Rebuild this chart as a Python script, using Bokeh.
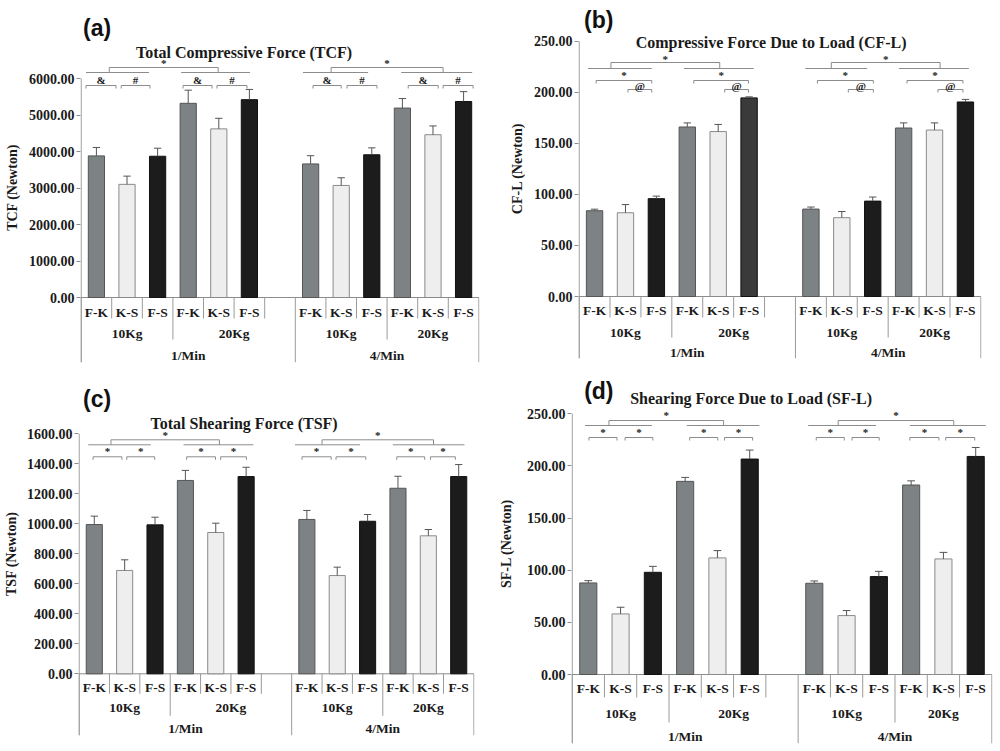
import math
from bokeh.plotting import figure
from bokeh.layouts import row, column
from bokeh.models import Range1d, FixedTicker, NumeralTickFormatter, Label
from bokeh.core.properties import value
from bokeh.embed import file_html
from bokeh.resources import INLINE

# ---------------- data ----------------
rates = ["1/Min", "4/Min"]
loads = ["10Kg", "20Kg"]
pairs = ["F-K", "K-S", "F-S"]

# order: rate -> load -> pair
tcf_mean = [3880, 3100, 3870, 5320, 4620, 5420, 3660, 3070, 3910, 5190, 4460, 5370]
tcf_err = [230, 225, 220, 360, 290, 280, 225, 210, 190, 260, 240, 270]
cfl_mean = [84.0, 82.0, 95.8, 166.0, 161.5, 194.5, 85.6, 77.2, 93.4, 165.0, 163.0, 190.5]
cfl_err = [1.5, 8.0, 2.5, 4.0, 7.0, 1.0, 2.0, 6.0, 4.0, 5.0, 7.0, 2.5]
tsf_mean = [995, 689, 993, 1289, 942, 1315, 1029, 655, 1017, 1237, 920, 1315]
tsf_err = [56, 71, 51, 67, 62, 62, 60, 56, 45, 80, 42, 80]
sfl_mean = [87.8, 58.1, 98.0, 185.2, 111.8, 206.6, 87.5, 56.5, 93.9, 181.7, 110.8, 209.1]
sfl_err = [2.2, 6.4, 5.7, 3.8, 7.0, 8.6, 2.2, 4.8, 5.0, 4.0, 6.3, 8.6]

tcf_ticks = [0, 1000, 2000, 3000, 4000, 5000, 6000]
cfl_ticks = [0, 50, 100, 150, 200, 250]
tsf_ticks = [0, 200, 400, 600, 800, 1000, 1200, 1400, 1600]
sfl_ticks = [0, 50, 100, 150, 200, 250]

# ---------------- layout / style ----------------
RATE_SLOTS = [7, 6]          # category slots per rate group (1/Min has a blank slot)
NSLOT = sum(RATE_SLOTS)
SERIF = value("Liberation Serif")
TXT = "#1a1a1a"
LINE = "#8c8c8c"
FILLS = ["#7d8284", "#eeeeee", "#1c1c1c"]
EDGES = ["#555555", "#8a8a8a", "#111111"]

def slot_of(r, l, p):
    return sum(RATE_SLOTS[:r]) + l * 3 + p

slots = [slot_of(r, l, p) for r in range(2) for l in range(2) for p in range(3)]
pair_idx = [p for r in range(2) for l in range(2) for p in range(3)]

def build(cfg, means, errs, ticks, ylabel, title, letter):
    LW = cfg["strip"]
    W, H = cfg["size"]
    L, R, T, B = cfg["border"]
    zero = cfg["zero"]
    ppu = (zero - cfg["top_px"]) / ticks[-1]
    y_end = (zero - T) / ppu
    y_start = -(H - B - zero) / ppu
    yr = Range1d(y_start, y_end)
    x0, x1 = -0.02, NSLOT + 0.02
    slot_px = (W - L - R) / (x1 - x0)
    py = lambda px: px / ppu
    px_ = lambda px: px / slot_px

    p = figure(width=W, height=H, x_range=Range1d(x0, x1), y_range=yr,
               output_backend="svg", toolbar_location=None, x_axis_location=None,
               min_border_left=L, min_border_right=R, min_border_top=T, min_border_bottom=B,
               title=None)
    p.outline_line_color = None
    p.xgrid.visible = False
    p.ygrid.visible = False
    p.background_fill_color = "white"
    p.border_fill_color = "white"

    ax = p.yaxis[0]
    ax.ticker = FixedTicker(ticks=ticks)
    ax.formatter = NumeralTickFormatter(format="0.00")
    ax.axis_line_color = None
    ax.major_tick_line_color = LINE
    ax.major_tick_out = 4
    ax.major_tick_in = 0
    ax.minor_tick_line_color = None
    ax.major_label_standoff = 2
    ax.major_label_text_font = "Liberation Serif"
    ax.major_label_text_font_style = "bold"
    ax.major_label_text_font_size = "14px"
    ax.major_label_text_color = TXT

    # axis lines
    p.segment(x0=[0], y0=[y_start], x1=[0], y1=[ticks[-1]], line_color=LINE, line_width=1)
    p.segment(x0=[0], y0=[0], x1=[NSLOT], y1=[0], line_color=LINE, line_width=1)

    # category separators
    rate_bounds = [sum(RATE_SLOTS[:i]) for i in range(len(RATE_SLOTS) + 1)]
    load_bounds = [rb + 3 for rb in rate_bounds[:-1]]
    sx, sy = [], []
    for b in range(NSLOT + 1):
        if b in rate_bounds:
            yb = y_start
        elif b in load_bounds:
            yb = -py(cfg["sep"][1])
        else:
            yb = -py(cfg["sep"][0])
        sx.append(b)
        sy.append(yb)
    p.segment(x0=sx, y0=[0] * len(sx), x1=sx, y1=sy, line_color="#9a9a9a", line_width=1)

    # category labels
    rows_px = cfg["rows"]
    cx = [s + 0.5 for s in slots]
    ctext = [pairs[i] for i in pair_idx]
    common = dict(text_font=SERIF, text_font_style="bold", text_font_size="13.5px",
                  text_color=TXT, text_align="center", text_baseline="middle")
    p.text(x=cx, y=[-py(rows_px[0])] * len(cx), text=ctext, **common)
    lx, lt = [], []
    for r in range(2):
        rs, re_ = rate_bounds[r], rate_bounds[r + 1]
        lx += [(rs + rs + 3) / 2, (rs + 3 + re_) / 2]
        lt += loads
    p.text(x=lx, y=[-py(rows_px[1])] * len(lx), text=lt, **common)
    rx = [(rate_bounds[r] + rate_bounds[r + 1]) / 2 for r in range(2)]
    p.text(x=rx, y=[-py(rows_px[2])] * 2, text=rates, **common)

    # bars
    fills = [FILLS[i] for i in pair_idx]
    for k, c in cfg.get("override", {}).items():
        fills[k] = c
    edges = [EDGES[i] for i in pair_idx]
    p.vbar(x=cx, top=means, bottom=0, width=0.53, fill_color=fills, line_color=edges, line_width=1)

    # error bars (upper)
    tops = [m + e for m, e in zip(means, errs)]
    p.segment(x0=cx, y0=means, x1=cx, y1=tops, line_color="#555555", line_width=1)
    cw = 0.12
    p.segment(x0=[c - cw for c in cx], y0=tops, x1=[c + cw for c in cx], y1=tops,
              line_color="#555555", line_width=1)

    # significance brackets
    for (ypx, drop, ldy, items) in cfg["brackets"]:
        y = py(ypx)
        xs0 = [a for a, b, t in items]
        xs1 = [b for a, b, t in items]
        p.segment(x0=xs0, y0=[y] * len(items), x1=xs1, y1=[y] * len(items), line_color=LINE, line_width=1)
        if drop:
            yd = py(ypx - drop)
            p.segment(x0=xs0 + xs1, y0=[y] * (2 * len(items)), x1=xs0 + xs1, y1=[yd] * (2 * len(items)),
                      line_color=LINE, line_width=1)
        labs = [(a + b) / 2 for a, b, t in items if t]
        if labs:
            p.text(x=labs, y=[py(ypx + ldy)] * len(labs), text=[t for a, b, t in items if t],
                   text_font=SERIF, text_font_style="bold", text_font_size="11px",
                   text_color=TXT, text_align="center", text_baseline="middle")

    # title and panel letter
    tx, ty = cfg["title"]
    p.text(x=[px_(tx)], y=[py(ty)], text=[title], text_font=SERIF, text_font_style="bold",
           text_font_size="16px", text_color=TXT, text_align="center", text_baseline="middle")
    lx_, ly_ = cfg["letter"]
    p.add_layout(Label(x=px_(lx_), y=py(ly_), text=letter, text_font="Liberation Sans",
                       text_font_style="bold", text_font_size="23px", text_color="#111111",
                       text_align="left", text_baseline="middle"))

    # y-axis title strip (shares the y range, so the title sits at a data height)
    s = figure(width=LW, height=H, x_range=Range1d(0, LW), y_range=yr,
               output_backend="svg", toolbar_location=None, x_axis_location=None,
               y_axis_location=None, min_border_left=0, min_border_right=0,
               min_border_top=T, min_border_bottom=B, title=None)
    s.outline_line_color = None
    s.xgrid.visible = False
    s.ygrid.visible = False
    yx, yy = cfg["ylab"]
    s.text(x=[yx], y=[py(yy)], text=[ylabel], angle=math.pi / 2, text_font=SERIF,
           text_font_style="bold", text_font_size="14px", text_color=TXT,
           text_align="center", text_baseline="middle")
    return row(s, p)

CFG_A = dict(strip=22, size=(476, 375), border=(58, 19, 13, 13), zero=297, top_px=78,
             rows=[15, 36, 58], sep=[21, 42], title=(163, 245), letter=(2, 270), ylab=(12, 110),
             brackets=[
                 (225, 0, 0, [(0.16, 2.22, ""), (3.27, 5.52, ""), (7.25, 9.38, ""), (10.46, 12.78, "")]),
                 (230, 5, 5, [(0.92, 4.48, "*"), (8.17, 11.83, "*")]),
                 (212, 3, 6, [(0.16, 1.14, "&"), (1.31, 2.25, "#"), (3.33, 4.28, "&"), (4.44, 5.42, "#"),
                              (7.58, 8.5, "&"), (8.69, 9.67, "#"), (10.69, 11.67, "&"), (11.83, 12.81, "#")]),
             ])
CFG_B = dict(strip=27, size=(473, 375), border=(53, 17, 3, 17), zero=296, top_px=40.7,
             rows=[14, 36, 56], sep=[21, 41], title=(192, 254), letter=(5, 277), ylab=(19, 128),
             override={5: "#3a3a3a"},
             brackets=[
                 (228, 0, 0, [(0.29, 2.35, ""), (3.39, 5.65, ""), (7.32, 9.32, ""), (10.35, 12.61, "")]),
                 (234, 6, 4, [(1.03, 4.55, "*"), (8.16, 11.68, "*")]),
                 (216, 3, 6, [(0.55, 2.35, "*"), (3.71, 5.48, "*"), (7.71, 9.52, "*"), (10.61, 12.42, "*")]),
                 (207, 3, 4, [(1.58, 2.35, "@"), (4.71, 5.48, "@"), (8.71, 9.52, "@"), (11.61, 12.42, "@")]),
             ])
CFG_C = dict(strip=20, size=(478, 374), border=(58, 24, 5, 14), zero=298.3, top_px=58.3,
             rows=[14, 34, 55], sep=[20, 42], title=(165, 250), letter=(4, 275), ylab=(11, 120),
             brackets=[
                 (229, 0, 0, [(0.3, 2.36, ""), (3.44, 5.74, ""), (7.11, 9.25, ""), (10.33, 12.69, "")]),
                 (234, 5, 5, [(1.05, 4.62, "*"), (8.0, 11.67, "*")]),
                 (217, 3, 6, [(0.46, 1.41, "*"), (1.57, 2.49, "*"), (3.54, 4.49, "*"), (4.66, 5.51, "*"),
                              (7.34, 8.30, "*"), (8.46, 9.44, "*"), (10.46, 11.38, "*"), (11.57, 12.39, "*")]),
             ])
CFG_D = dict(strip=18, size=(482, 374), border=(55, 6, 2, 6), zero=299, top_px=38.3,
             rows=[14, 39, 62], sep=[23, 48], title=(179, 276), letter=(12, 284), ylab=(8, 131),
             brackets=[
                 (249, 0, 0, [(0.40, 2.47, ""), (3.55, 5.80, ""), (7.31, 9.41, ""), (10.46, 12.81, "")]),
                 (254, 5, 6, [(1.14, 4.69, "*"), (8.24, 11.82, "*")]),
                 (237, 3, 6, [(0.52, 1.39, "*"), (1.64, 2.5, "*"), (3.64, 4.51, "*"), (4.72, 5.59, "*"),
                              (7.56, 8.43, "*"), (8.67, 9.51, "*"), (10.46, 11.36, "*"), (11.57, 12.47, "*")]),
             ])

pa = build(CFG_A, tcf_mean, tcf_err, tcf_ticks, "TCF (Newton)", "Total Compressive Force (TCF)", "(a)")
pb = build(CFG_B, cfl_mean, cfl_err, cfl_ticks, "CF-L (Newton)", "Compressive Force Due to Load (CF-L)", "(b)")
pc = build(CFG_C, tsf_mean, tsf_err, tsf_ticks, "TSF (Newton)", "Total Shearing Force (TSF)", "(c)")
pd = build(CFG_D, sfl_mean, sfl_err, sfl_ticks, "SF-L (Newton)", "Shearing Force Due to Load (SF-L)", "(d)")

layout = column(row(pa, pb), row(pc, pd))
open("out.html", "w").write(file_html(layout, INLINE))
